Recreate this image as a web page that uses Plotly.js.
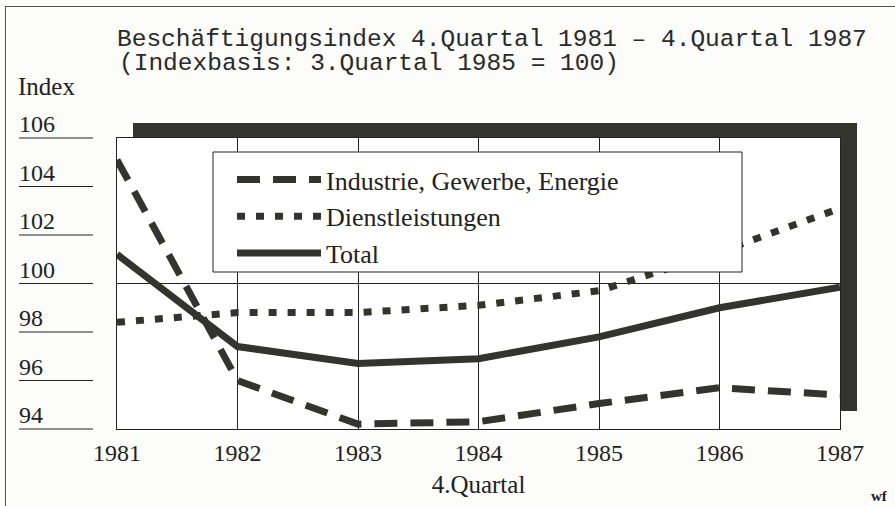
<!DOCTYPE html>
<html><head><meta charset="utf-8">
<script src="https://cdn.plot.ly/plotly-3.0.1.min.js"></script>
<style>
body{margin:0;background:#fcfcfa;}
#chart{width:895px;height:506px;}
#frame{position:absolute;left:5px;top:6px;width:890px;height:500px;border-left:1px solid #555;border-top:1px solid #555;pointer-events:none;}
</style>
</head><body>
<div id="chart"></div><div id="frame"></div>
<script>
// ---- data ----
const years = [1981, 1982, 1983, 1984, 1985, 1986, 1987];
const industrie = [105.1, 96.0, 94.2, 94.3, 95.05, 95.7, 95.4];
const dienstleistungen = [98.4, 98.8, 98.8, 99.1, 99.7, 101.3, 103.1];
const total = [101.2, 97.4, 96.7, 96.9, 97.8, 99.0, 99.85];
const seriesNames = ['Industrie, Gewerbe, Energie', 'Dienstleistungen', 'Total'];
const yTickVals = [94, 96, 98, 100, 102, 104, 106];
const yTickText = ['94', '96', '98', '100', '102', '104', '106'];
const xTickText = ['1981', '1982', '1983', '1984', '1985', '1986', '1987'];
const baseValue = 100;
const titleLine1 = 'Beschäftigungsindex 4.Quartal 1981 – 4.Quartal 1987';
const titleLine2 = '(Indexbasis: 3.Quartal 1985 = 100)';
const yTitle = 'Index';
const xTitle = '4.Quartal';
const credit = 'wf';

// ---- style ----
const ink = '#34342f';
const serif = 'Liberation Serif, Times New Roman, serif';
const mono = 'Liberation Mono, Courier New, monospace';
const W = 895, H = 506;
const M = {l: 117, r: 55, t: 138, b: 77};
const yRange = [94, 106];
const plotH = H - M.t - M.b, plotW = W - M.l - M.r;
const px2paperX = p => (p - M.l) / plotW;
const px2paperY = p => (H - M.b - p) / plotH;
const val2paperY = v => (v - yRange[0]) / (yRange[1] - yRange[0]);

const traces = [
  {x: years, y: industrie, name: seriesNames[0], mode: 'lines',
   line: {color: ink, width: 7, dash: '23px,13px'}},
  {x: years, y: dienstleistungen, name: seriesNames[1], mode: 'lines',
   line: {color: ink, width: 7, dash: '8px,11px'}},
  {x: years, y: total, name: seriesNames[2], mode: 'lines',
   line: {color: ink, width: 7}}
];

const shapes = [
  // shadow: top strip and right strip of the offset box
  {type: 'rect', xref: 'paper', yref: 'paper', layer: 'below',
   x0: px2paperX(133), x1: px2paperX(857), y0: 1, y1: px2paperY(123),
   fillcolor: ink, line: {width: 0}},
  {type: 'rect', xref: 'paper', yref: 'paper', layer: 'below',
   x0: 1, x1: px2paperX(857), y0: px2paperY(411), y1: 1,
   fillcolor: ink, line: {width: 0}},
  // legend box
  {type: 'rect', xref: 'paper', yref: 'paper', layer: 'above',
   x0: px2paperX(213), x1: px2paperX(742), y0: px2paperY(272), y1: px2paperY(152),
   fillcolor: 'white', line: {color: '#222', width: 1}}
];
yTickVals.forEach(v => {
  shapes.push({type: 'line', xref: 'paper', yref: 'paper',
    x0: px2paperX(19), x1: px2paperX(93), y0: val2paperY(v), y1: val2paperY(v),
    line: {color: '#222', width: 1}});
});

const annotations = [
  {text: titleLine2, xref: 'paper', yref: 'paper', x: 0, y: px2paperY(63),
   xanchor: 'left', yanchor: 'middle', showarrow: false,
   font: {family: mono, size: 24.5, color: '#2a2a2a'}},
  {text: yTitle, xref: 'paper', yref: 'paper', x: px2paperX(16), y: px2paperY(86),
   xanchor: 'left', yanchor: 'middle', showarrow: false,
   font: {family: serif, size: 25, color: '#222'}},
  {text: '<b>' + credit + '</b>', xref: 'paper', yref: 'paper', x: px2paperX(869), y: px2paperY(496),
   xanchor: 'left', yanchor: 'middle', showarrow: false,
   font: {family: serif, size: 15, color: '#222'}}
];
yTickVals.forEach((v, i) => {
  annotations.push({text: yTickText[i], xref: 'paper', yref: 'paper',
    x: px2paperX(17), y: val2paperY(v), xanchor: 'left', yanchor: 'bottom',
    yshift: -1, showarrow: false, font: {family: serif, size: 24, color: '#222'}});
});

const layout = {
  width: W, height: H,
  margin: M,
  paper_bgcolor: 'rgba(0,0,0,0)',
  plot_bgcolor: 'white',
  title: {text: titleLine1, x: M.l / W, xref: 'container', xanchor: 'left',
          y: 1 - 37 / H, yref: 'container', yanchor: 'middle',
          font: {family: mono, size: 24.5, color: '#2a2a2a'}},
  xaxis: {range: [years[0], years[years.length - 1]], tickvals: years, ticktext: xTickText,
          showgrid: true, gridcolor: '#222', gridwidth: 1, zeroline: false,
          showline: true, mirror: true, linecolor: '#222', linewidth: 1,
          ticks: '', ticklabelstandoff: 2,
          tickfont: {family: serif, size: 24, color: '#222'},
          title: {text: xTitle, standoff: 10, font: {family: serif, size: 25, color: '#222'}}},
  yaxis: {range: yRange, tickvals: [baseValue], showticklabels: false,
          showgrid: true, gridcolor: '#222', gridwidth: 1, zeroline: false,
          showline: true, mirror: true, linecolor: '#222', linewidth: 1, ticks: ''},
  showlegend: true,
  legend: {x: px2paperX(232), y: px2paperY(156), xanchor: 'left', yanchor: 'top',
           bgcolor: 'rgba(0,0,0,0)', borderwidth: 0, itemwidth: 84, tracegroupgap: 0,
           font: {family: serif, size: 26, color: '#222'}},
  shapes: shapes,
  annotations: annotations
};

Plotly.newPlot('chart', traces, layout, {displayModeBar: false, staticPlot: true});
</script>
</body></html>
